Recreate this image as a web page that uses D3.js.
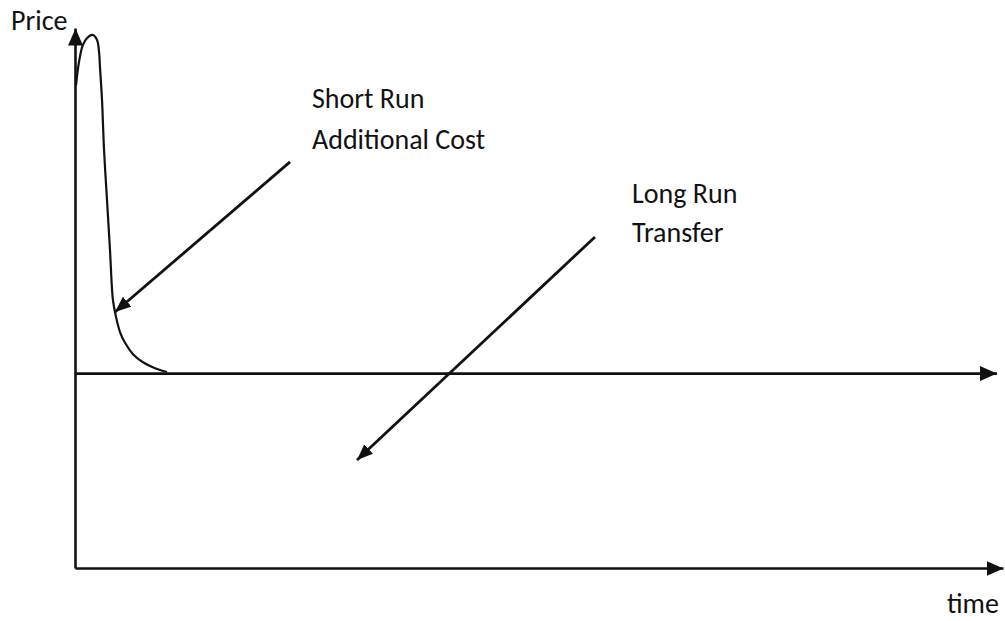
<!DOCTYPE html>
<html>
<head>
<meta charset="utf-8">
<script src="https://cdn.jsdelivr.net/npm/d3@7"></script>
<style>
  html, body { margin: 0; padding: 0; background: #fff; }
  svg text { font-family: Carlito, Lato, "Open Sans", sans-serif; fill: #111; }
</style>
</head>
<body>
<div id="chart"></div>
<script>
// short run price spike (time, price)
const spikeTime  = [0.11, 0.43, 0.86, 1.40, 1.94, 2.37, 2.59, 2.69, 2.91, 3.13, 3.45, 3.77, 4.09, 4.42, 4.85, 5.39, 6.25, 7.33, 8.62, 9.91];
const spikePrice = [89.4, 93.7, 96.9, 98.3, 98.7, 97.8, 95.6, 92.8, 86.7, 77.4, 68.1, 58.9, 49.6, 46.5, 43.7, 41.7, 39.6, 38.1, 37.0, 36.3];

// long run price level
const longRunPrice = 36;
const longRunEnd   = 99.35;

// annotation arrows: [fromTime, fromPrice, toTime, toPrice]
const shortRunArrow = [23.17, 75.2, 4.31, 47.4];
const longRunArrow  = [56.03, 61.3, 30.39, 20.0];

const axisLabels  = ["Price", "time"];
const shortRunTxt = ["Short Run", "Additional Cost"];
const longRunTxt  = ["Long Run", "Transfer"];

const W = 1005, H = 621;

const x = d3.scaleLinear().domain([0, 100]).range([75, 1003]);
const y = d3.scaleLinear().domain([0, 100]).range([568, 28]);

const svg = d3.select("#chart").append("svg")
  .attr("width", W).attr("height", H);

// arrowheads
const defs = svg.append("defs");
function head(id, len, wid) {
  defs.append("marker")
    .attr("id", id)
    .attr("markerUnits", "userSpaceOnUse")
    .attr("viewBox", `0 ${-wid/2} ${len} ${wid}`)
    .attr("markerWidth", len).attr("markerHeight", wid)
    .attr("refX", len).attr("refY", 0)
    .attr("orient", "auto")
    .append("path")
    .attr("d", `M0,${-wid/2}L${len},0L0,${wid/2}Z`)
    .attr("fill", "#111");
}
head("axisHead", 17, 15);
head("noteHead", 16, 13);

// axes, no ticks
const xAxis = d3.axisBottom(x).ticks(0).tickSize(0).tickSizeOuter(0);
const yAxis = d3.axisLeft(y).ticks(0).tickSize(0).tickSizeOuter(0);

svg.append("g").attr("class", "x axis")
  .attr("transform", `translate(0,${y(0)})`)
  .call(xAxis);
svg.append("g").attr("class", "y axis")
  .attr("transform", `translate(${x(0)},0)`)
  .call(yAxis);
svg.selectAll(".axis path.domain")
  .attr("stroke", "#111").attr("stroke-width", 2.6)
  .attr("marker-end", "url(#axisHead)");

// long run price line
svg.append("line")
  .attr("x1", x(0)).attr("y1", y(longRunPrice))
  .attr("x2", x(longRunEnd)).attr("y2", y(longRunPrice))
  .attr("stroke", "#111").attr("stroke-width", 2.6)
  .attr("marker-end", "url(#axisHead)");

// spike curve
const line = d3.line()
  .x(d => x(d[0])).y(d => y(d[1]))
  .curve(d3.curveCatmullRom.alpha(0.5));
svg.append("path")
  .datum(spikeTime.map((t, i) => [t, spikePrice[i]]))
  .attr("d", line)
  .attr("fill", "none").attr("stroke", "#111").attr("stroke-width", 2.2);

// annotation arrows
[shortRunArrow, longRunArrow].forEach(a => {
  svg.append("line")
    .attr("x1", x(a[0])).attr("y1", y(a[1]))
    .attr("x2", x(a[2])).attr("y2", y(a[3]))
    .attr("stroke", "#111").attr("stroke-width", 2.8)
    .attr("marker-end", "url(#noteHead)");
});

// texts
const fs = 28;
svg.append("text").attr("x", 11).attr("y", 30).attr("font-size", fs).text(axisLabels[0]);
svg.append("text").attr("x", 947).attr("y", 613).attr("font-size", fs).text(axisLabels[1]);

shortRunTxt.forEach((t, i) => {
  svg.append("text").attr("x", 312).attr("y", 108 + i * 41).attr("font-size", fs).text(t);
});
longRunTxt.forEach((t, i) => {
  svg.append("text").attr("x", 632).attr("y", 203 + i * 39).attr("font-size", fs).text(t);
});
</script>
</body>
</html>
